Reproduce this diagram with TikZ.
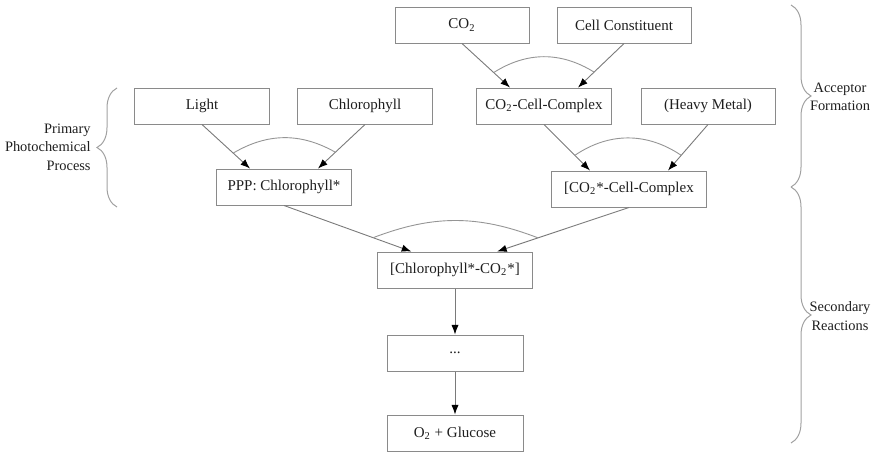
\documentclass[tikz,border=0pt]{standalone}
\usepackage{fontspec}
\setmainfont{Liberation Serif}
\usetikzlibrary{arrows.meta,calc,decorations.pathreplacing}
\definecolor{BoxGray}{HTML}{8A8A8A}
\definecolor{LinkGray}{HTML}{7A7A7A}
\definecolor{InkDark}{HTML}{1E1E1E}
\tikzset{
  factor/.style={draw=BoxGray,line width=0.5pt,minimum height=18pt,inner sep=2pt,font=\fontsize{7.5}{9}\selectfont,text=InkDark},
  reactarrow/.style={-{Latex[length=4.8pt,width=3.6pt,color=black]},line width=0.45pt,draw=LinkGray},
  joinarc/.style={line width=0.45pt,draw=LinkGray!80},
  phasebrace/.style={decorate,decoration={brace,amplitude=#1},draw=BoxGray!80,line width=0.5pt},
  phasebrace/.default=10pt,
  phasenote/.style={font=\fontsize{7.2}{9.2}\selectfont,text=InkDark,align=center,inner sep=0.5pt}
}

\begin{document}
\begin{tikzpicture}[x=0.5pt,y=-0.5pt]
  \useasboundingbox (0,0) rectangle (888,455);

  % Acceptor formation inputs.
  \node[factor,minimum width=67pt] (co2) at (462,25) {CO\textsubscript{2}};
  \node[factor,minimum width=67pt] (constituent) at (624,25) {Cell Constituent};

  % Second row: light side and acceptor side.
  \node[factor,minimum width=67.5pt] (light) at (202,106) {Light};
  \node[factor,minimum width=67.5pt] (chlorophyll) at (365,106) {Chlorophyll};
  \node[factor,minimum width=67.5pt] (complex) at (544,106) {CO\textsubscript{2}-Cell-Complex};
  \node[factor,minimum width=67pt] (metal) at (708,106) {(Heavy Metal)};

  % Excited states.
  \node[factor,minimum width=67.5pt] (ppp) at (284,187) {PPP: Chlorophyll*};
  \node[factor,minimum width=77.5pt] (excited) at (629,189) {[CO\textsubscript{2}*-Cell-Complex};

  % Secondary reaction chain.
  \node[factor,minimum width=77.5pt] (pair) at (455,270) {[Chlorophyll*-CO\textsubscript{2}*]};
  \node[factor,minimum width=68pt] (steps) at (455,353) {...};
  \node[factor,minimum width=68pt] (glucose) at (455,433) {O\textsubscript{2} + Glucose};

  \draw[reactarrow] (co2.south) -- coordinate[pos=0.66] (co2-j)
    ($(complex.north west)!0.25!(complex.north east)$);
  \draw[reactarrow] (constituent.south) -- coordinate[pos=0.65] (constituent-j)
    ($(complex.north west)!0.75!(complex.north east)$);
  \draw[joinarc] (co2-j) to[bend left=32] (constituent-j);

  \draw[reactarrow] (light.south) -- coordinate[pos=0.65] (light-j)
    ($(ppp.north west)!0.25!(ppp.north east)$);
  \draw[reactarrow] (chlorophyll.south) -- coordinate[pos=0.63] (chlorophyll-j)
    ($(ppp.north west)!0.75!(ppp.north east)$);
  \draw[joinarc] (light-j) to[bend left=30] (chlorophyll-j);

  \draw[reactarrow] (complex.south) -- coordinate[pos=0.67] (complex-j)
    ($(excited.north west)!0.25!(excited.north east)$);
  \draw[reactarrow] (metal.south) -- coordinate[pos=0.67] (metal-j)
    ($(excited.north west)!0.75!(excited.north east)$);
  \draw[joinarc] (complex-j) to[bend left=34] (metal-j);

  \draw[reactarrow] (ppp.south) -- coordinate[pos=0.7] (ppp-j)
    ($(pair.north west)!0.22!(pair.north east)$);
  \draw[reactarrow] (excited.south) -- coordinate[pos=0.69] (excited-j)
    ($(pair.north west)!0.77!(pair.north east)$);
  \draw[joinarc] (ppp-j) to[bend left=21] (excited-j);

  \draw[reactarrow] (pair) -- (steps);
  \draw[reactarrow] (steps) -- (glucose);

  % Phase braces.
  \draw[phasebrace] (117,207) -- (117,88);
  \draw[phasebrace] (791,5) -- (791,187);
  \draw[phasebrace] (791,187) -- (791,443);
  \node[phasenote,align=right,anchor=east] (primary) at (92,147)
    {Primary\\Photochemical\\Process};
  \node[phasenote] (acceptor) at (840,97) {Acceptor\\Formation};
  \node[phasenote] (secondary) at (840,316) {Secondary\\Reactions};
\end{tikzpicture}
\end{document}
